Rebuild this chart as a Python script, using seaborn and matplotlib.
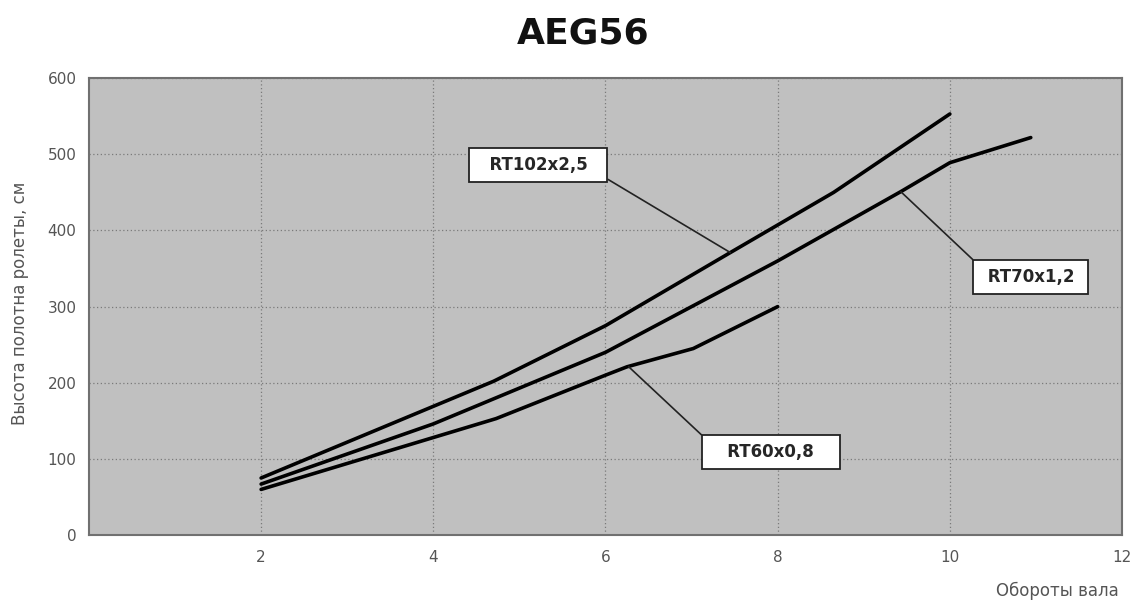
import matplotlib
matplotlib.use("Agg")
import matplotlib.pyplot as plt
import seaborn as sns
import pandas as pd

# Data
x_rt102 = [2, 4.7, 6, 7.45, 8.65, 10]
y_rt102 = [75, 202, 275, 371, 450, 553]

x_rt70 = [2, 4, 6, 8, 9.43, 10, 10.94]
y_rt70 = [67, 146, 240, 360, 451, 489, 522]

x_rt60 = [2, 4.73, 6, 6.25, 7.02, 8]
y_rt60 = [60, 153, 210, 221, 245, 300]

series_names = ["RT102x2,5", "RT70x1,2", "RT60x0,8"]
title = "AEG56"
xlabel = "Обороты вала"
ylabel = "Высота полотна ролеты, см"
xticks = [2, 4, 6, 8, 10, 12]
yticks = [0, 100, 200, 300, 400, 500, 600]

df = pd.concat([
    pd.DataFrame({"x": x_rt102, "y": y_rt102, "s": series_names[0]}),
    pd.DataFrame({"x": x_rt70, "y": y_rt70, "s": series_names[1]}),
    pd.DataFrame({"x": x_rt60, "y": y_rt60, "s": series_names[2]}),
])

sns.set_style("white")
plt.rcParams["font.family"] = ["DejaVu Sans"]

fig = plt.figure(figsize=(11.36, 6.06), dpi=100)
ax = fig.add_axes([0.0783, 0.117, 0.9094, 0.754])
ax.set_facecolor("#c0c0c0")

sns.lineplot(data=df, x="x", y="y", hue="s", palette=["black"] * 3,
             linewidth=2.6, legend=False, ax=ax, sort=False, estimator=None)

ax.set_xlim(0, 12)
ax.set_ylim(0, 600)
ax.set_xticks(xticks)
ax.set_yticks(yticks)
ax.grid(True, color="#7a7a7a", linestyle=(0, (1, 2)), linewidth=0.9)
ax.set_axisbelow(True)
for sp in ax.spines.values():
    sp.set_color("#707070")
    sp.set_linewidth(1.5)
ax.tick_params(axis="both", colors="#707070", labelcolor="#555555",
               labelsize=11, length=3, direction="out")
ax.tick_params(axis="x", pad=8)
ax.tick_params(axis="y", pad=6)

ax.set_xlabel("")
ax.set_ylabel("")
fig.text(0.018, 0.5, ylabel, rotation=90, ha="center", va="center",
         fontsize=12, color="#555555")
fig.text(0.985, 0.01, xlabel, ha="right", va="bottom",
         fontsize=12, color="#555555")
fig.text(0.513, 0.945, title, ha="center", va="center",
         fontsize=26, fontweight="bold", color="#111111")

box = dict(boxstyle="square,pad=0.5", facecolor="white", edgecolor="#222222", linewidth=1.3)
arrow = dict(arrowstyle="-", color="#222222", linewidth=1.2, shrinkA=0, shrinkB=0)

ax.annotate("  " + series_names[0] + "  ", xy=(7.45, 371), xytext=(5.22, 486),
            ha="center", va="center", fontsize=12, fontweight="bold",
            bbox=box, arrowprops=dict(arrow, relpos=(1.0, 0.0)))
ax.annotate(" " + series_names[1] + " ", xy=(9.43, 451), xytext=(10.94, 339),
            ha="center", va="center", fontsize=12, fontweight="bold",
            bbox=box, arrowprops=dict(arrow, relpos=(0.0, 1.0)))
ax.annotate("   " + series_names[2] + "   ", xy=(6.27, 221), xytext=(7.92, 109),
            ha="center", va="center", fontsize=12, fontweight="bold",
            bbox=box, arrowprops=dict(arrow, relpos=(0.0, 1.0)))

fig.savefig("out.png", dpi=100)
